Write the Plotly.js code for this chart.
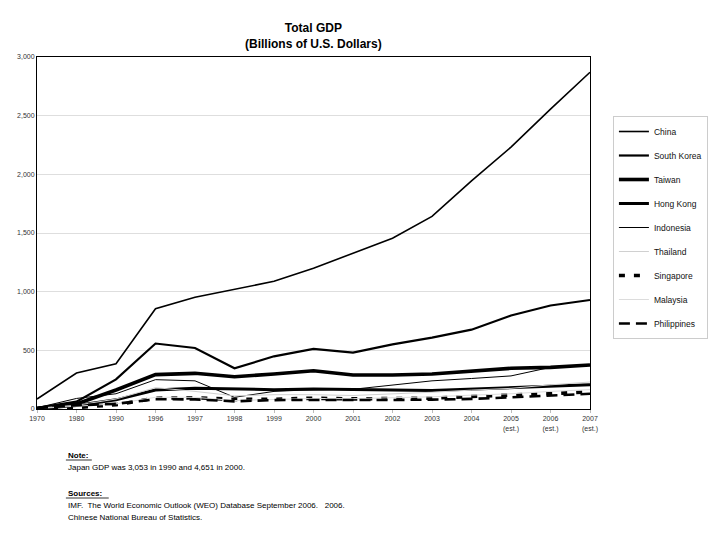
<!DOCTYPE html>
<html>
<head>
<meta charset="utf-8">
<script src="https://cdn.plot.ly/plotly-3.0.1.min.js"></script>
<style>html,body{margin:0;padding:0;background:#fff;}#chart{width:720px;height:540px;}</style>
</head>
<body>
<div id="chart"></div>
<script>
// Categories and tick labels
const years = ['1970','1980','1990','1996','1997','1998','1999','2000','2001','2002','2003','2004','2005','2006','2007'];
const yearLabels = ['1970','1980','1990','1996','1997','1998','1999','2000','2001','2002','2003','2004','2005<br>(est.)','2006<br>(est.)','2007<br>(est.)'];

// Series values (billions of US$)
const china       = [85, 307, 385, 855, 953, 1020, 1088, 1199, 1325, 1456, 1642, 1945, 2232, 2556, 2870];
const southKorea  = [9, 63, 252, 558, 520, 347, 449, 512, 481, 551, 608, 676, 797, 882, 929];
const taiwan      = [6, 42, 162, 293, 304, 275, 298, 326, 290, 290, 298, 321, 347, 355, 375];
const hongKong    = [4, 29, 78, 161, 176, 170, 165, 170, 168, 162, 157, 170, 185, 196, 207];
const indonesia   = [10, 90, 130, 250, 240, 100, 150, 165, 168, 205, 240, 260, 282, 355, 372];
const thailand    = [7, 32, 85, 182, 150, 112, 122, 122, 115, 127, 143, 161, 176, 206, 230];
const singapore   = [2, 12, 37, 92, 96, 82, 83, 92, 86, 88, 92, 107, 117, 132, 145];
const malaysia    = [4, 25, 44, 100, 100, 72, 79, 90, 88, 95, 104, 118, 130, 150, 165];
const philippines = [7, 32, 44, 83, 82, 65, 76, 76, 71, 77, 80, 86, 99, 117, 130];

const seriesNames = ['China','South Korea','Taiwan','Hong Kong','Indonesia','Thailand','Singapore','Malaysia','Philippines'];
const seriesData = [china, southKorea, taiwan, hongKong, indonesia, thailand, singapore, malaysia, philippines];
const seriesStyle = [
  {color:'#000', width:1.6, dash:'solid'},
  {color:'#000', width:2.2, dash:'solid'},
  {color:'#000', width:3.6, dash:'solid'},
  {color:'#000', width:3.0, dash:'solid'},
  {color:'#000', width:1.0, dash:'solid'},
  {color:'#d0d0d0', width:1.0, dash:'solid'},
  {color:'#000', width:3.6, dash:'6px,9px'},
  {color:'#dcdcdc', width:1.0, dash:'solid'},
  {color:'#000', width:2.6, dash:'11px,6px'}
];

const traces = seriesNames.map((n, i) => ({
  type: 'scatter', mode: 'lines', name: n, x: years, y: seriesData[i],
  line: seriesStyle[i], legendgroup: 'g' + i, hoverinfo: 'skip'
}));

// plot area geometry (pixels)
const L = 37, R = 128, T = 57, B = 131;
const W = 720 - L - R, H = 540 - T - B;
const px = v => (v - L) / W;
const py = v => (540 - B - v) / H;

const font = 'Liberation Sans, Arial, sans-serif';
const note = (text, y) => ({text: text, x: px(66), y: py(y), xref: 'paper', yref: 'paper', xanchor: 'left', yanchor: 'middle', showarrow: false, font: {size: 8, family: font, color: '#000'}});

const layout = {
  width: 720, height: 540,
  margin: {l: L, r: R, t: T, b: B},
  paper_bgcolor: '#fff', plot_bgcolor: '#fff',
  font: {family: font, color: '#222', size: 7},
  showlegend: true,
  xaxis: {
    type: 'category', range: [0, 14], tickmode: 'array', tickvals: years, ticktext: yearLabels,
    showgrid: false, showline: true, linecolor: '#000', linewidth: 1, mirror: true,
    ticks: 'outside', ticklen: 3, tickcolor: '#bbb', tickfont: {size: 7, color: '#333', family: font},
    zeroline: false, fixedrange: true
  },
  yaxis: {
    range: [0, 3000], dtick: 500, tickformat: ',d', showgrid: true, gridcolor: '#dedede', gridwidth: 1,
    showline: true, linecolor: '#000', linewidth: 1, mirror: true, ticks: '',
    tickfont: {size: 7, color: '#333', family: font}, zeroline: false, fixedrange: true
  },
  legend: {
    x: px(615), y: py(116), xanchor: 'left', yanchor: 'top',
    bordercolor: '#ccc', borderwidth: 1, bgcolor: '#fff',
    font: {size: 8.5, family: font, color: '#111'},
    traceorder: 'grouped', tracegroupgap: 5, itemwidth: 30
  },
  annotations: [
    {text: '<b>Total GDP</b><br><b>(Billions of U.S. Dollars)</b>', x: 0.5, y: py(36), xref: 'paper', yref: 'paper',
     xanchor: 'center', yanchor: 'middle', showarrow: false, font: {size: 12, family: font, color: '#000'}},
    note('<b>Note:</b>', 455),
    note('Japan GDP was 3,053 in 1990 and 4,651 in 2000.', 467),
    note('<b>Sources:</b>', 493),
    note('IMF.  The World Economic Outlook (WEO) Database September 2006.   2006.', 505),
    note('Chinese National Bureau of Statistics.', 517)
  ],
  shapes: [
    {type: 'line', xref: 'paper', yref: 'paper', x0: px(66), x1: px(92), y0: py(460), y1: py(460), line: {color: '#000', width: 0.8}},
    {type: 'line', xref: 'paper', yref: 'paper', x0: px(66), x1: px(109), y0: py(498), y1: py(498), line: {color: '#000', width: 0.8}}
  ]
};

Plotly.newPlot('chart', traces, layout, {displayModeBar: false, staticPlot: true});
</script>
</body>
</html>
